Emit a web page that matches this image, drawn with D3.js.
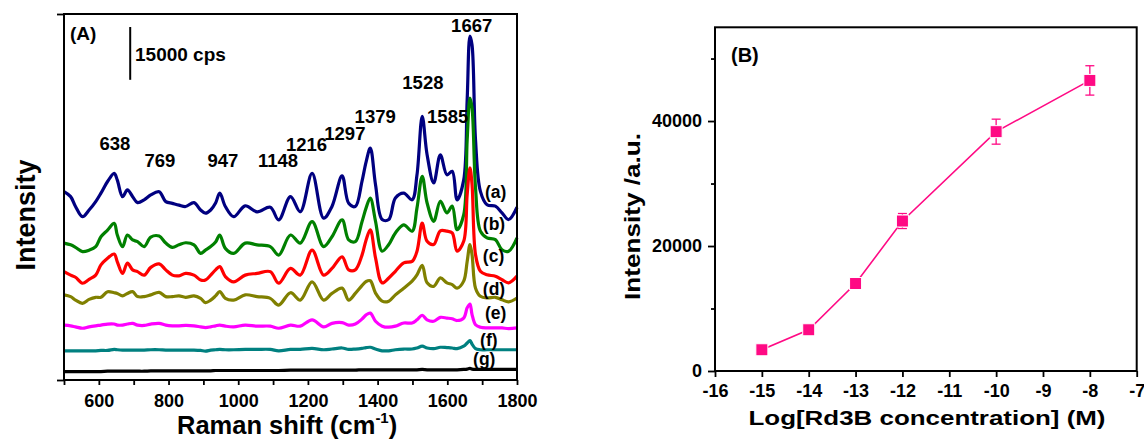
<!DOCTYPE html>
<html>
<head>
<meta charset="utf-8">
<script src="https://cdn.jsdelivr.net/npm/d3@7"></script>
<style>
  body { margin: 0; background: #fff; }
  svg { display: block; font-family: "Liberation Sans", Arial, sans-serif; font-weight: bold; }
</style>
</head>
<body>
<script>
'use strict'

// ---- panel A : SERS spectra, stacked (kcps) ----
let wavenumber = [500, 519, 533, 553, 572, 591, 606, 625, 644, 653,
    668, 682, 697, 711, 730, 749, 773, 792, 811, 830,
    849, 873, 892, 906, 921, 935, 947, 963, 987, 1020,
    1054, 1092, 1116, 1150, 1178, 1212, 1245, 1269, 1298, 1317,
    1336, 1355, 1367, 1379, 1394, 1413, 1432, 1451, 1475, 1499,
    1513, 1528, 1542, 1561, 1580, 1599, 1614, 1628, 1647, 1657,
    1665, 1671, 1681, 1695, 1714, 1738, 1757, 1776, 1800]

let specA = [53.5, 52.1, 49.3, 46.4, 48.3, 50.7, 53.1, 56.4, 58.7, 56.8,
    52.1, 54.0, 52.1, 50.4, 51.2, 52.6, 53.5, 50.7, 50.2, 49.7,
    49.3, 50.4, 48.3, 47.4, 48.3, 50.3, 53.1, 49.3, 46.4, 49.5,
    47.8, 49.1, 45.5, 52.1, 47.8, 58.7, 46.0, 49.3, 58.0, 50.2,
    49.3, 56.4, 62.0, 65.9, 55.5, 45.6, 45.6, 51.7, 53.1, 51.2,
    58.3, 74.9, 64.0, 56.0, 64.0, 58.3, 59.3, 51.2, 56.8, 79.6,
    97.7, 95.2, 68.2, 53.6, 49.8, 49.4, 47.5, 45.6, 49.1]

let specB = [38.9, 38.4, 37.7, 36.5, 36.9, 37.9, 40.7, 42.6, 44.5, 41.2,
    37.9, 41.2, 39.8, 39.3, 37.9, 40.6, 40.9, 38.9, 37.7, 38.4,
    39.0, 38.4, 36.0, 36.9, 37.9, 39.2, 41.2, 37.4, 36.0, 38.9,
    38.4, 37.9, 35.5, 41.2, 38.9, 45.0, 37.9, 40.7, 45.5, 39.8,
    39.3, 44.9, 48.9, 51.7, 45.1, 36.6, 38.5, 41.8, 44.1, 42.3,
    48.9, 57.9, 50.3, 45.1, 50.8, 47.5, 49.4, 42.7, 46.9, 68.2,
    80.1, 77.3, 54.6, 42.3, 40.4, 39.9, 37.0, 36.6, 40.4]

let specC = [30.8, 29.8, 29.2, 27.5, 28.6, 29.8, 32.7, 34.6, 35.8, 33.6,
    30.3, 33.2, 31.3, 30.8, 29.8, 32.0, 33.0, 31.3, 29.8, 29.6,
    30.3, 29.8, 28.4, 28.4, 29.8, 31.3, 32.2, 29.4, 27.9, 29.8,
    30.3, 30.8, 27.5, 31.7, 29.8, 36.9, 29.8, 31.7, 35.0, 31.3,
    31.3, 35.4, 39.8, 42.7, 34.7, 27.6, 29.0, 30.9, 33.3, 33.7,
    36.6, 44.6, 39.4, 38.5, 42.4, 42.3, 41.8, 36.6, 39.4, 52.7,
    60.3, 55.5, 35.6, 30.9, 29.9, 29.5, 28.5, 27.6, 29.5]

let specD = [24.2, 23.7, 22.7, 21.8, 22.9, 23.5, 23.5, 25.1, 24.8, 24.6,
    23.9, 24.6, 25.1, 23.7, 23.7, 24.2, 24.9, 23.7, 23.7, 23.9,
    23.5, 23.9, 23.2, 22.0, 22.7, 23.9, 25.1, 23.2, 22.7, 24.2,
    23.7, 23.2, 21.3, 24.8, 22.7, 27.9, 22.7, 24.6, 26.1, 22.7,
    24.6, 26.8, 28.0, 28.2, 24.7, 22.4, 22.4, 24.2, 26.1, 28.1,
    29.9, 32.6, 27.6, 26.6, 29.0, 27.6, 27.1, 26.1, 28.1, 33.7,
    38.5, 35.6, 26.1, 23.8, 23.3, 23.5, 22.8, 22.2, 23.3]

let specE = [15.6, 15.4, 15.1, 14.7, 15.1, 15.4, 15.6, 15.9, 15.9, 15.6,
    15.6, 15.9, 16.1, 15.6, 15.5, 15.9, 16.1, 15.6, 15.4, 15.4,
    15.5, 15.4, 15.1, 14.9, 15.1, 15.4, 15.6, 15.3, 15.1, 15.6,
    15.3, 15.3, 14.7, 15.6, 15.3, 17.1, 15.1, 16.1, 16.3, 15.6,
    15.9, 17.3, 18.5, 19.0, 16.7, 15.3, 15.0, 15.3, 16.2, 16.2,
    17.1, 18.4, 17.1, 16.7, 17.8, 17.6, 17.4, 16.9, 17.6, 20.5,
    21.6, 18.6, 15.7, 15.0, 14.8, 14.8, 14.8, 14.6, 14.8]

let specF = [8.3, 8.3, 8.3, 8.3, 8.3, 8.3, 8.4, 8.4, 8.7, 8.6,
    8.5, 8.5, 8.5, 8.5, 8.5, 8.6, 8.6, 8.5, 8.5, 8.5,
    8.5, 8.5, 8.4, 8.2, 8.5, 8.6, 8.7, 8.6, 8.6, 8.7,
    8.7, 8.7, 8.3, 8.7, 8.7, 9.0, 8.6, 8.8, 9.1, 8.7,
    8.8, 9.0, 9.2, 9.3, 8.8, 8.3, 8.3, 8.6, 8.8, 8.8,
    9.1, 9.6, 9.1, 8.9, 9.3, 9.2, 9.1, 8.9, 9.6, 10.5,
    11.2, 10.2, 8.9, 8.6, 8.6, 8.6, 8.6, 8.6, 8.6]

let specG = [2.4, 2.4, 2.4, 2.4, 2.4, 2.4, 2.4, 2.5, 2.5, 2.5,
    2.5, 2.5, 2.5, 2.5, 2.5, 2.6, 2.6, 2.6, 2.6, 2.6,
    2.6, 2.6, 2.6, 2.6, 2.6, 2.7, 2.7, 2.7, 2.7, 2.7,
    2.7, 2.7, 2.7, 2.8, 2.8, 2.8, 2.8, 2.8, 2.8, 2.8,
    2.8, 2.9, 2.9, 2.9, 2.9, 2.9, 2.9, 2.9, 2.9, 2.9,
    2.9, 3.0, 2.9, 2.9, 2.9, 2.9, 2.9, 2.9, 3.0, 3.1,
    3.3, 3.1, 3.0, 3.0, 3.0, 3.0, 3.0, 3.0, 3.0]

let seriesNames = ['(a)', '(b)', '(c)', '(d)', '(e)', '(f)', '(g)']
let peakLabels = ['638', '769', '947', '1148', '1216', '1297', '1379', '1528', '1585', '1667']
let ramanTicks = [600, 800, 1000, 1200, 1400, 1600, 1800]

// ---- panel B : calibration ----
let logConc = [-15, -14, -13, -12, -10, -8]
let intensityB = [3400, 6600, 14000, 24000, 38300, 46500]
let errorB = [300, 400, 500, 1200, 2000, 2350]
let concTicks = [-16, -15, -14, -13, -12, -11, -10, -9, -8, -7]
let intensityTicks = [0, 20000, 40000]

// ---- styling / layout ----
let colors = ['#000080', '#008000', '#ff0000', '#808000', '#ff00ff', '#008080', '#000000']
let pink = '#ff0a84'
let font = '"Liberation Sans", Arial, sans-serif'

// where annotations sit (wavenumber, kcps)
let peakPos = [[646, 65.4], [775, 60.6], [956, 60.5], [1114, 60.5], [1196, 65.2],
    [1306, 68.2], [1393, 73.1], [1530, 82.8], [1601, 73.0], [1670, 98.8]]
let namePos = [[1708, 51.7], [1702, 42.6], [1702, 33.5], [1702, 24.2], [1708, 17.3], [1694, 9.7], [1674, 4.3]]

let svg = d3.select('body').append('svg')
    .attr('width', 1144)
    .attr('height', 441)

function styleTicks(g, size) {
    g.select('.domain').remove()
    g.selectAll('line').attr('stroke-width', 1.8)
    g.selectAll('text')
        .attr('fill', '#000')
        .attr('font-weight', 'bold')
        .style('font-family', font)
        .style('font-weight', 'bold')
        .style('font-size', size + 'px')
}

// ================= panel A =================
let xA = d3.scaleLinear().domain([500, 1800]).range([64, 517])
let yA = d3.scaleLinear().domain([0, 104]).range([380, 14])

let spectra = [specA, specB, specC, specD, specE, specF, specG]

let line = d3.line()
    .x((d, i) => xA(wavenumber[i]))
    .y(d => yA(d))
    .curve(d3.curveCatmullRom.alpha(0.5))

let gA = svg.append('g')

gA.selectAll('.spec').data(spectra).enter()
    .append('path')
    .attr('class', 'spec')
    .attr('d', d => line(d))
    .attr('fill', 'none')
    .attr('stroke', (d, i) => colors[i])
    .attr('stroke-width', 3.2)
    .attr('stroke-linejoin', 'round')

let axA = gA.append('g')
    .attr('transform', 'translate(0,380)')
    .call(d3.axisBottom(xA).tickValues(d3.range(500, 1801, 100)).tickSize(5).tickPadding(9)
        .tickFormat(d => ramanTicks.includes(d) ? String(d) : ''))
styleTicks(axA, 18)

let ayA = gA.append('g')
    .attr('transform', 'translate(64,0)')
    .call(d3.axisLeft(yA).tickValues([0, 104]).tickSize(7).tickFormat(''))
styleTicks(ayA, 18)

gA.append('rect')
    .attr('x', xA(500)).attr('y', yA(104))
    .attr('width', xA(1800) - xA(500)).attr('height', yA(0) - yA(104))
    .attr('fill', 'none').attr('stroke', '#000').attr('stroke-width', 2)

// scale bar
gA.append('line')
    .attr('x1', xA(690)).attr('x2', xA(690))
    .attr('y1', yA(85.3)).attr('y2', yA(85.3 + 15))
    .attr('stroke', '#000').attr('stroke-width', 2)
gA.append('text')
    .attr('x', 135).attr('y', 61)
    .attr('font-size', 19)
    .text('15000 cps')

gA.append('text')
    .attr('x', 70).attr('y', 40)
    .attr('font-size', 19)
    .text('(A)')

gA.selectAll('.peak').data(peakLabels).enter()
    .append('text')
    .attr('class', 'peak')
    .attr('x', (d, i) => xA(peakPos[i][0]))
    .attr('y', (d, i) => yA(peakPos[i][1]))
    .attr('text-anchor', 'middle')
    .attr('font-size', 18.5)
    .text(d => d)

gA.selectAll('.sname').data(seriesNames).enter()
    .append('text')
    .attr('class', 'sname')
    .attr('x', (d, i) => xA(namePos[i][0]))
    .attr('y', (d, i) => yA(namePos[i][1]))
    .attr('font-size', 17.5)
    .text(d => d)

let xt = gA.append('text')
    .attr('x', 177).attr('y', 434)
    .attr('font-size', 25.5)
xt.append('tspan').text('Raman shift (cm')
xt.append('tspan').attr('font-size', 15).attr('dy', -11).text('-1')
xt.append('tspan').attr('dy', 11).text(')')

gA.append('text')
    .attr('transform', 'translate(35,215) rotate(-90)')
    .attr('text-anchor', 'middle')
    .attr('font-size', 27)
    .text('Intensity')

// ================= panel B =================
let xB = d3.scaleLinear().domain([-16, -7]).range([715, 1136.7])
let yB = d3.scaleLinear().domain([0, 55000]).range([371, 27.3])

let gB = svg.append('g')

let axB = gB.append('g')
    .attr('transform', 'translate(0,371)')
    .call(d3.axisBottom(xB).tickValues(concTicks).tickSize(6).tickPadding(7).tickFormat(d => String(d)))
styleTicks(axB, 18)

let ayB = gB.append('g')
    .attr('transform', 'translate(715,0)')
    .call(d3.axisLeft(yB).tickValues(intensityTicks).tickSize(7).tickPadding(6).tickFormat(d => String(d)))
styleTicks(ayB, 18)

let ayBminor = gB.append('g')
    .attr('transform', 'translate(715,0)')
    .call(d3.axisLeft(yB).tickValues([10000, 30000, 50000]).tickSize(4).tickFormat(''))
styleTicks(ayBminor, 18)

gB.append('rect')
    .attr('x', xB(-16)).attr('y', yB(55000))
    .attr('width', xB(-7) - xB(-16)).attr('height', yB(0) - yB(55000))
    .attr('fill', 'none').attr('stroke', '#000').attr('stroke-width', 2)

let pts = logConc.map((c, i) => ({x: c, y: intensityB[i], e: errorB[i]}))

gB.append('path')
    .attr('d', d3.line().x(d => xB(d.x)).y(d => yB(d.y))(pts))
    .attr('fill', 'none')
    .attr('stroke', pink)
    .attr('stroke-width', 1.6)

let eb = gB.selectAll('.err').data(pts).enter().append('g').attr('class', 'err')
    .attr('stroke', pink).attr('stroke-width', 1.3)
eb.append('line')
    .attr('x1', d => xB(d.x)).attr('x2', d => xB(d.x))
    .attr('y1', d => yB(d.y - d.e)).attr('y2', d => yB(d.y + d.e))
eb.append('line')
    .attr('x1', d => xB(d.x) - 4.5).attr('x2', d => xB(d.x) + 4.5)
    .attr('y1', d => yB(d.y + d.e)).attr('y2', d => yB(d.y + d.e))
eb.append('line')
    .attr('x1', d => xB(d.x) - 4.5).attr('x2', d => xB(d.x) + 4.5)
    .attr('y1', d => yB(d.y - d.e)).attr('y2', d => yB(d.y - d.e))

gB.selectAll('.mk').data(pts).enter()
    .append('rect')
    .attr('class', 'mk')
    .attr('x', d => xB(d.x) - 6).attr('y', d => yB(d.y) - 6)
    .attr('width', 12).attr('height', 12)
    .attr('fill', pink)
    .attr('stroke', '#fff').attr('stroke-width', 1)

gB.append('text')
    .attr('x', 731).attr('y', 62)
    .attr('font-size', 20)
    .text('(B)')

gB.append('text')
    .attr('x', 927).attr('y', 425)
    .attr('text-anchor', 'middle')
    .attr('font-size', 21)
    .attr('textLength', 357)
    .attr('lengthAdjust', 'spacingAndGlyphs')
    .text('Log[Rd3B concentration] (M)')

gB.append('text')
    .attr('transform', 'translate(640,216.5) rotate(-90)')
    .attr('text-anchor', 'middle')
    .attr('font-size', 22.5)
    .attr('textLength', 167)
    .attr('lengthAdjust', 'spacingAndGlyphs')
    .text('Intensity /a.u.')
</script>
</body>
</html>
